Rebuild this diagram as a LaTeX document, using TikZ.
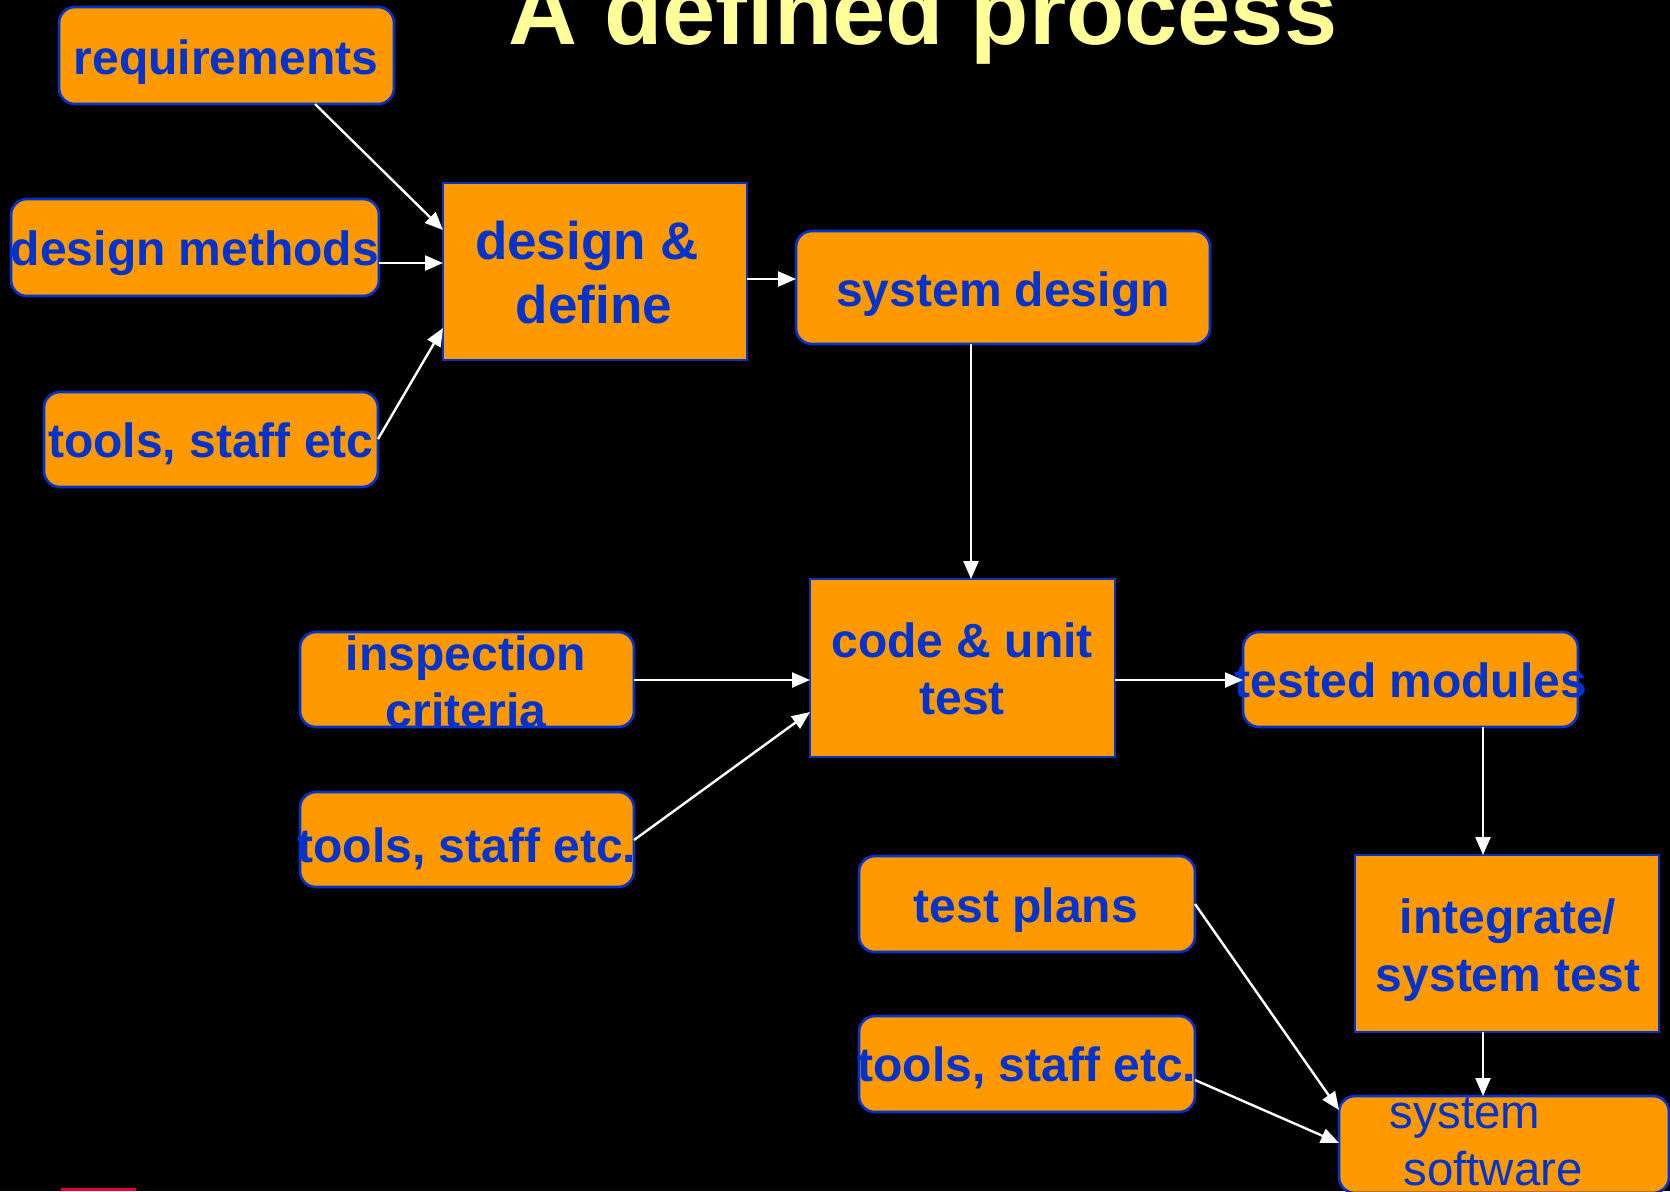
\documentclass[tikz,border=0pt]{standalone}
\usepackage{fontspec}
\setmainfont{Liberation Sans}
\usetikzlibrary{arrows.meta,calc}
\definecolor{boxorange}{HTML}{FF9900}
\definecolor{boxblue}{HTML}{0033CC}
\definecolor{titleyellow}{HTML}{FFFF99}
\definecolor{barred}{HTML}{E4003A}
\tikzset{
  rbox/.style={draw=boxblue, fill=boxorange, line width=1.3pt, rounded corners=8pt, inner sep=0pt, outer sep=0pt},
  sbox/.style={draw=boxblue, fill=boxorange, line width=1.3pt, inner sep=0pt, outer sep=0pt},
  txt/.style={anchor=base, inner sep=0pt, text=boxblue, font=\bfseries\fontsize{24}{28}\selectfont},
  bigtxt/.style={anchor=base, inner sep=0pt, text=boxblue, font=\bfseries\fontsize{26.5}{30}\selectfont},
  regtxt/.style={anchor=base, inner sep=0pt, text=boxblue, font=\fontsize{23.7}{28}\selectfont},
  arr/.style={draw=white, line width=1.2pt, -{Triangle[length=9pt, width=7.5pt]}}
}
\begin{document}
\begin{tikzpicture}[x=0.5pt, y=-0.5pt]
\useasboundingbox (0,0) rectangle (1670,1191);
\fill[black] (0,0) rectangle (1670,1191);
\clip (0,0) rectangle (1670,1191);

% title
\node[anchor=base, inner sep=0pt, text=titleyellow, font=\bfseries\fontsize{47.8}{52}\selectfont] (title) at (923,44) {A defined process};

% boxes
\node[rbox, minimum width=167.5pt, minimum height=48.5pt] (req) at (226.5,55.5) {};
\node[rbox, minimum width=184pt, minimum height=48.5pt] (dm) at (195,247.5) {};
\node[rbox, minimum width=167pt, minimum height=47.5pt] (tA) at (211,439.5) {};
\node[sbox, minimum width=152pt, minimum height=88.5pt] (dd) at (595,271.5) {};
\node[rbox, minimum width=207pt, minimum height=56.5pt] (sd) at (1003,287.5) {};
\node[sbox, minimum width=152.5pt, minimum height=89pt] (code) at (962.5,668) {};
\node[rbox, minimum width=167pt, minimum height=47.5pt] (insp) at (467,679.5) {};
\node[rbox, minimum width=167pt, minimum height=47.5pt] (tB) at (467,839.5) {};
\node[rbox, minimum width=167.5pt, minimum height=47.5pt] (tested) at (1410.5,679.5) {};
\node[sbox, minimum width=152pt, minimum height=88.5pt] (integ) at (1507,943.5) {};
\node[rbox, minimum width=168pt, minimum height=48pt] (tp) at (1027,904) {};
\node[rbox, minimum width=168pt, minimum height=48pt] (tC) at (1027,1064) {};
\node[rbox, minimum width=165pt, minimum height=48.5pt] (ss) at (1504,1144.5) {};

% texts
\node[txt] (reqT) at (226,74) {requirements};
\node[txt] (dmT) at (195,265) {design methods};
\node[txt] (tAT) at (211,457) {tools, staff etc};
\node[bigtxt] (ddT1) at (587,259) {design \&};
\node[bigtxt] (ddT2) at (594,323) {define};
\node[txt] (sdT) at (1003,306) {system design};
\node[txt] (codeT1) at (962,657) {code \& unit};
\node[txt] (codeT2) at (962,714) {test};
\node[txt] (inspT1) at (466,670) {inspection};
\node[txt] (inspT2) at (466,727) {criteria};
\node[txt] (tBT) at (467,862) {tools, staff etc.};
\node[txt] (testedT) at (1411,697) {tested modules};
\node[txt] (integT1) at (1508,933) {integrate/};
\node[txt] (integT2) at (1508,991) {system test};
\node[txt] (tpT) at (1026,922) {test plans};
\node[txt] (tCT) at (1027,1081) {tools, staff etc.};
\node[regtxt] (ssT1) at (1465,1128) {system};
\node[regtxt] (ssT2) at (1493,1185) {software};

% connectors
\draw[arr] (req.south -| 315,0) -- (dd.west |- 0,230);
\draw[arr] (dm.east |- 0,263) -- (dd.west |- 0,263);
\draw[arr] (tA.east |- 0,439) -- (dd.west |- 0,328);
\draw[arr] (dd.east |- 0,279) -- (sd.west |- 0,279);
\draw[arr] (sd.south -| 971,0) -- (code.north -| 971,0);
\draw[arr] (insp.east |- 0,680) -- (code.west |- 0,680);
\draw[arr] (tB.east |- 0,840) -- (code.west |- 0,712);
\draw[arr] (code.east |- 0,680) -- (tested.west |- 0,680);
\draw[arr] (tested.south -| 1483,0) -- (integ.north -| 1483,0);
\draw[arr] (integ.south -| 1483,0) -- (ss.north -| 1483,0);
\draw[arr] (tp.east |- 0,904) -- (ss.west |- 0,1110);
\draw[arr] (tC.east |- 0,1080) -- (ss.west |- 0,1143);

% red bar at bottom
\fill[barred] (61,1188) rectangle (136,1191);
\end{tikzpicture}
\end{document}
